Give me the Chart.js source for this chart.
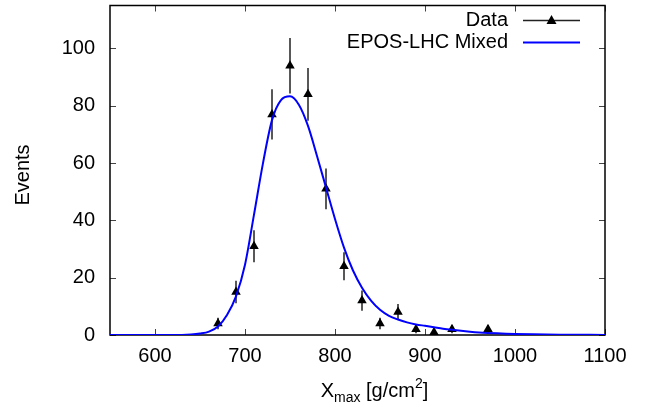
<!DOCTYPE html>
<html>
<head>
<meta charset="utf-8">
<script src="https://cdn.jsdelivr.net/npm/chart.js@4"></script>
<style>
  body { margin: 0; background: #fff; }
  #wrap { width: 646px; height: 405px; }
</style>
</head>
<body>
<div id="wrap"><canvas id="xmaxChart" width="646" height="405"></canvas></div>
<script>
// measured Xmax distribution
const binCenters = [670, 690, 710, 730, 750, 770, 790, 810, 830, 850, 870, 890, 910, 930, 970];
const events = [4, 15, 31, 77, 94, 84, 51, 24, 12, 4, 8, 2, 1, 2, 2];
const eventErrors = [2, 3.9, 5.6, 8.8, 9.7, 9.2, 7.1, 4.9, 3.5, 2, 2.8, 1.4, 1, 1.4, 1.4];

// EPOS-LHC mixed composition prediction
const fitX = [550, 600, 630, 640, 650, 660, 670, 680, 690, 700, 710, 720, 730, 740, 750, 760, 770, 780, 790, 800,
  810, 820, 830, 840, 850, 860, 870, 880, 890, 900, 910, 920, 930, 940, 950, 960, 970, 980, 990, 1000, 1020, 1050, 1100];
const fitY = [0, 0, 0.02, 0.15, 0.5, 1.2, 3, 7, 13.5, 24.5, 42, 60, 75, 82, 83.3, 80.3, 73, 62.5, 51.5, 40.5,
  30.5, 22.5, 16.5, 12, 8.8, 6.7, 5.4, 4.4, 3.7, 3.2, 2.7, 2.2, 1.8, 1.45, 1.15, 0.9, 0.72, 0.58, 0.47, 0.38, 0.25, 0.12, 0.03];

const xTicks = [600, 700, 800, 900, 1000, 1100];
const yTicks = [0, 20, 40, 60, 80, 100];

const FONT = "'Liberation Sans', Arial, Helvetica, sans-serif";

// frame, inward ticks and error bars (gnuplot look)
const framePlugin = {
  id: "frame",
  beforeDatasetsDraw(chart) {
    const { ctx, chartArea: a, scales } = chart;
    const tick = 6;
    ctx.save();
    ctx.strokeStyle = "#444";
    ctx.lineWidth = 1;
    ctx.beginPath();
    xTicks.forEach((v) => {
      const x = Math.round(scales.x.getPixelForValue(v)) + 0.5;
      ctx.moveTo(x, a.bottom); ctx.lineTo(x, a.bottom - tick);
      ctx.moveTo(x, a.top); ctx.lineTo(x, a.top + tick);
    });
    yTicks.forEach((v) => {
      const y = Math.round(scales.y.getPixelForValue(v)) + 0.5;
      ctx.moveTo(a.left, y); ctx.lineTo(a.left + tick, y);
      ctx.moveTo(a.right, y); ctx.lineTo(a.right - tick, y);
    });
    ctx.stroke();

    ctx.strokeStyle = "#000";
    ctx.lineWidth = 1.5;
    ctx.strokeRect(a.left, a.top, a.right - a.left, a.bottom - a.top);

    // error bars
    ctx.strokeStyle = "#222";
    ctx.lineWidth = 1.5;
    ctx.beginPath();
    binCenters.forEach((xv, i) => {
      const x = scales.x.getPixelForValue(xv);
      const lo = Math.max(0, events[i] - eventErrors[i]);
      ctx.moveTo(x, scales.y.getPixelForValue(events[i] + eventErrors[i]));
      ctx.lineTo(x, scales.y.getPixelForValue(lo));
    });
    ctx.stroke();
    ctx.restore();
  },
  afterDraw(chart) {
    const { ctx, chartArea: a } = chart;
    ctx.save();
    ctx.fillStyle = "#000";

    // legend
    ctx.font = "20px " + FONT;
    ctx.textAlign = "right";
    ctx.textBaseline = "middle";
    const rows = [
      { label: chart.data.datasets[0].label, y: 20, color: "#222", marker: true },
      { label: chart.data.datasets[1].label, y: 42, color: "#0000ff", marker: false },
    ];
    rows.forEach((r) => {
      ctx.fillStyle = "#000";
      ctx.fillText(r.label, 508, r.y);
      ctx.strokeStyle = r.color;
      ctx.lineWidth = r.marker ? 1.5 : 2;
      ctx.beginPath();
      ctx.moveTo(523, r.y + 0.5);
      ctx.lineTo(580, r.y + 0.5);
      ctx.stroke();
      if (r.marker) {
        ctx.fillStyle = "#000";
        ctx.beginPath();
        ctx.moveTo(551.5, r.y - 5);
        ctx.lineTo(556.5, r.y + 4);
        ctx.lineTo(546.5, r.y + 4);
        ctx.closePath();
        ctx.fill();
      }
    });

    // y title
    ctx.fillStyle = "#000";
    ctx.save();
    ctx.translate(23, 175);
    ctx.rotate(-Math.PI / 2);
    ctx.textAlign = "center";
    ctx.textBaseline = "middle";
    ctx.fillText("Events", 0, 0);
    ctx.restore();

    // x title: X_max [g/cm^2]
    const parts = [
      { t: "X", size: 20, dy: 0 },
      { t: "max", size: 14, dy: 5 },
      { t: " [g/cm", size: 20, dy: 0 },
      { t: "2", size: 14, dy: -9 },
      { t: "]", size: 20, dy: 0 },
    ];
    ctx.textAlign = "left";
    ctx.textBaseline = "alphabetic";
    let w = 0;
    parts.forEach((p) => { ctx.font = p.size + "px " + FONT; w += ctx.measureText(p.t).width; });
    let x = (a.left + a.right) / 2 + 17 - w / 2;
    const base = 397;
    parts.forEach((p) => {
      ctx.font = p.size + "px " + FONT;
      ctx.fillText(p.t, x, base + p.dy);
      x += ctx.measureText(p.t).width;
    });
    ctx.restore();
  },
};

new Chart(document.getElementById("xmaxChart"), {
  type: "scatter",
  data: {
    datasets: [
      {
        label: "Data",
        data: binCenters.map((x, i) => ({ x: x, y: events[i] })),
        pointStyle: "triangle",
        pointRadius: 5.5,
        pointBackgroundColor: "#000",
        pointBorderColor: "#000",
        pointBorderWidth: 0,
        showLine: false,
        order: 1,
      },
      {
        label: "EPOS-LHC Mixed",
        data: fitX.map((x, i) => ({ x: x, y: fitY[i] })),
        showLine: true,
        borderColor: "#0000ff",
        borderWidth: 2,
        pointRadius: 0,
        cubicInterpolationMode: "monotone",
        fill: false,
        order: 0,
      },
    ],
  },
  options: {
    responsive: false,
    animation: false,
    layout: { padding: { top: 4, right: 41, bottom: 0, left: 0 } },
    plugins: {
      legend: { display: false },
      tooltip: { enabled: false },
    },
    scales: {
      x: {
        type: "linear",
        min: 550,
        max: 1100,
        afterBuildTicks: (scale) => { scale.ticks = xTicks.map((v) => ({ value: v })); },
        afterFit: (scale) => {
          scale.height = 70;
          scale.paddingLeft = 0;
          scale.paddingRight = 0;
        },
        grid: { display: false, drawTicks: false },
        border: { display: false },
        ticks: {
          color: "#000",
          padding: 9,
          maxRotation: 0,
          font: { size: 20, family: FONT },
          callback: (v) => String(v),
        },
      },
      y: {
        min: 0,
        max: 115,
        afterBuildTicks: (scale) => { scale.ticks = yTicks.map((v) => ({ value: v })); },
        afterFit: (scale) => {
          scale.width = 110;
          scale.paddingTop = 0;
          scale.paddingBottom = 0;
        },
        grid: { display: false, drawTicks: false },
        border: { display: false },
        ticks: {
          color: "#000",
          padding: 15,
          font: { size: 20, family: FONT },
          callback: (v) => String(v),
        },
      },
    },
  },
  plugins: [framePlugin],
});
</script>
</body>
</html>
